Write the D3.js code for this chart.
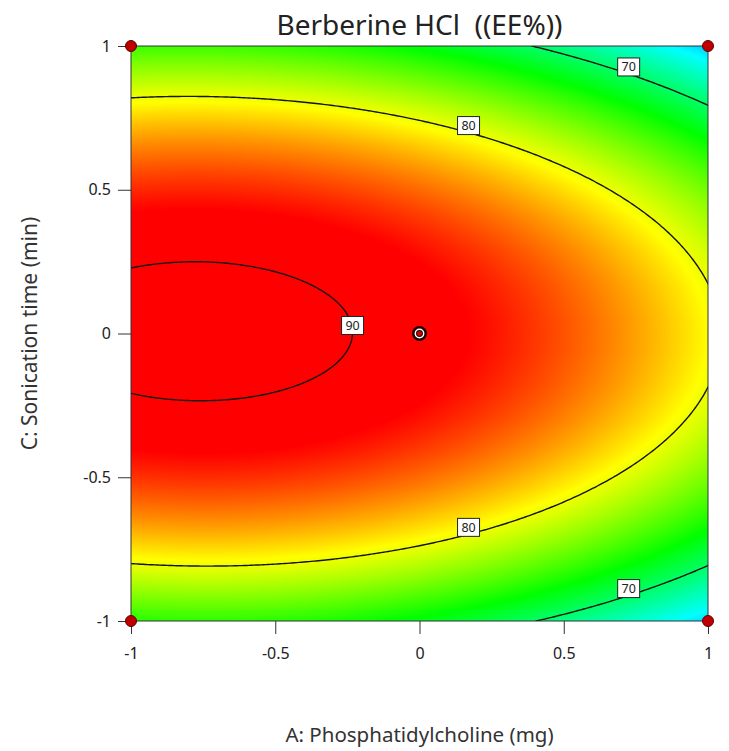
<!DOCTYPE html>
<html>
<head>
<meta charset="utf-8">
<script src="https://cdn.jsdelivr.net/npm/d3@7"></script>
<style>
  body { margin: 0; background: #fff; }
  text { font-family: "Noto Sans", "Open Sans", sans-serif; }
</style>
</head>
<body>
<script>
// axis ticks (coded levels)
const xTicks = [-1, -0.5, 0, 0.5, 1];
const yTicks = [-1, -0.5, 0, 0.5, 1];

// quadratic model for EE% in coded units: b0, A, C, AC, A^2, C^2
const coefs = [88.99, -5.125, 0.05, -0.27, -3.335, -16.43];

// contour levels
const levels = [70, 80, 90];

// design points
const designA = [-1, 1, -1, 1];
const designC = [1, 1, -1, -1];
const centerA = [0];
const centerC = [0];

// colour ramp of the response
const colorValues = [58, 65.5, 73, 80.5, 88];
const colorRange = ['#0000ff', '#00ffff', '#00ff00', '#ffff00', '#ff0000'];

const width = 729;
const height = 751;
const margin = { top: 46, left: 131, right: 21, bottom: 130 };
const pw = width - margin.left - margin.right;
const ph = height - margin.top - margin.bottom;

const f = (a, c) =>
  coefs[0] + coefs[1] * a + coefs[2] * c + coefs[3] * a * c + coefs[4] * a * a + coefs[5] * c * c;

const x = d3.scaleLinear().domain([-1, 1]).range([margin.left, margin.left + pw]);
const y = d3.scaleLinear().domain([-1, 1]).range([margin.top + ph, margin.top]);
const color = d3.scaleLinear().domain(colorValues).range(colorRange).clamp(true);

const svg = d3.select('body').append('svg').attr('width', width).attr('height', height);

// heat map image
const canvas = document.createElement('canvas');
canvas.width = pw;
canvas.height = ph;
const ctx = canvas.getContext('2d');
const img = ctx.createImageData(pw, ph);
for (let j = 0; j < ph; j++) {
  const c = y.invert(margin.top + j + 0.5);
  for (let i = 0; i < pw; i++) {
    const a = x.invert(margin.left + i + 0.5);
    const rgb = d3.rgb(color(f(a, c)));
    const k = (j * pw + i) * 4;
    img.data[k] = rgb.r;
    img.data[k + 1] = rgb.g;
    img.data[k + 2] = rgb.b;
    img.data[k + 3] = 255;
  }
}
ctx.putImageData(img, 0, 0);
svg.append('image')
  .attr('x', margin.left).attr('y', margin.top)
  .attr('width', pw).attr('height', ph)
  .attr('preserveAspectRatio', 'none')
  .attr('href', canvas.toDataURL());

// contours
const n = 241;
const grid = new Array(n * n);
for (let j = 0; j < n; j++) {
  for (let i = 0; i < n; i++) {
    grid[j * n + i] = f(-1 + (2 * i) / (n - 1), 1 - (2 * j) / (n - 1));
  }
}
const contours = d3.contours().size([n, n]).thresholds(levels)(grid);
const proj = d3.geoTransform({
  point(px, py) {
    this.stream.point(x(-1 + (2 * (px - 0.5)) / (n - 1)), y(1 - (2 * (py - 0.5)) / (n - 1)));
  },
});
svg.append('clipPath').attr('id', 'plot-clip')
  .append('rect')
  .attr('x', margin.left).attr('y', margin.top)
  .attr('width', pw).attr('height', ph);
svg.append('g')
  .attr('clip-path', 'url(#plot-clip)')
  .selectAll('path')
  .data(contours)
  .enter()
  .append('path')
  .attr('d', d3.geoPath(proj))
  .attr('fill', 'none')
  .attr('stroke', '#141414')
  .attr('stroke-width', 1.4);

// frame
svg.append('rect')
  .attr('x', margin.left).attr('y', margin.top)
  .attr('width', pw).attr('height', ph)
  .attr('fill', 'none')
  .attr('stroke', '#333')
  .attr('stroke-width', 1);

// contour labels
const ridgeC = (a) => -(coefs[2] + coefs[3] * a) / (2 * coefs[5]);
const solve = (g, lo, hi) => {
  // bisection on a monotone function
  let glo = g(lo);
  for (let k = 0; k < 60; k++) {
    const mid = (lo + hi) / 2;
    const gm = g(mid);
    if (Math.sign(gm) === Math.sign(glo)) { lo = mid; glo = gm; } else { hi = mid; }
  }
  return (lo + hi) / 2;
};
const labelA = [0.725, 0.17];
const labels = [];
levels.forEach((lv, idx) => {
  if (idx < labelA.length) {
    const a = labelA[idx];
    const c0 = ridgeC(a);
    labels.push({ lv, a, c: solve((c) => f(a, c) - lv, c0, 1.2) });
    labels.push({ lv, a, c: solve((c) => f(a, c) - lv, c0, -1.2) });
  } else {
    const a = solve((t) => f(t, ridgeC(t)) - lv, -0.75, 1);
    labels.push({ lv, a, c: ridgeC(a) });
  }
});
const lab = svg.append('g')
  .selectAll('g')
  .data(labels)
  .enter()
  .append('g')
  .attr('transform', (d) => `translate(${x(d.a)}, ${y(d.c) - 7})`);
lab.append('rect')
  .attr('x', -11).attr('y', -9)
  .attr('width', 22).attr('height', 18)
  .attr('fill', '#fff')
  .attr('stroke', '#222')
  .attr('stroke-width', 1);
lab.append('text')
  .text((d) => d.lv)
  .attr('y', 4.5)
  .attr('text-anchor', 'middle')
  .attr('font-size', '12.5px')
  .attr('fill', '#222');

// axes
const xAxis = (g) =>
  g.attr('transform', `translate(0, ${margin.top + ph})`)
    .call(d3.axisBottom(x).tickValues(xTicks).tickSize(13).tickPadding(14).tickFormat((d) => String(d)))
    .call((g) => g.select('.domain').remove());
const yAxis = (g) =>
  g.attr('transform', `translate(${margin.left}, 0)`)
    .call(d3.axisLeft(y).tickValues(yTicks).tickSize(13).tickPadding(7).tickFormat((d) => String(d)))
    .call((g) => g.select('.domain').remove());
svg.append('g').call(xAxis);
svg.append('g').call(yAxis);
svg.selectAll('.tick line').attr('stroke', '#333');
svg.selectAll('.tick text')
  .attr('font-size', '16px')
  .attr('font-family', '"Noto Sans", sans-serif')
  .attr('fill', '#222');

// design points
svg.append('g')
  .selectAll('circle')
  .data(designA)
  .enter()
  .append('circle')
  .attr('cx', (d) => x(d))
  .attr('cy', (d, i) => y(designC[i]))
  .attr('r', 5.5)
  .attr('fill', '#c00000')
  .attr('stroke', '#5a0000')
  .attr('stroke-width', 1);

const cp = svg.append('g')
  .selectAll('g')
  .data(centerA)
  .enter()
  .append('g')
  .attr('transform', (d, i) => `translate(${x(d)}, ${y(centerC[i])})`);
cp.append('circle').attr('r', 7.5).attr('fill', '#1a0000');
cp.append('circle').attr('r', 4.2).attr('fill', 'none').attr('stroke', '#fff').attr('stroke-width', 1.5);
cp.append('circle').attr('r', 2.5).attr('fill', '#d00000');

// title and axis labels
svg.append('text')
  .text('Berberine HCl  ((EE%))')
  .attr('x', x(0))
  .attr('y', 35)
  .attr('text-anchor', 'middle')
  .attr('font-size', '28px')
  .attr('fill', '#222')
  .style('white-space', 'pre');

svg.append('text')
  .text('A: Phosphatidylcholine (mg)')
  .attr('x', x(0))
  .attr('y', 742)
  .attr('text-anchor', 'middle')
  .attr('font-size', '20.5px')
  .attr('fill', '#333');

svg.append('text')
  .text('C: Sonication time (min)')
  .attr('transform', `translate(37, ${y(0)}) rotate(-90)`)
  .attr('text-anchor', 'middle')
  .attr('font-size', '21px')
  .attr('fill', '#333');
</script>
</body>
</html>
